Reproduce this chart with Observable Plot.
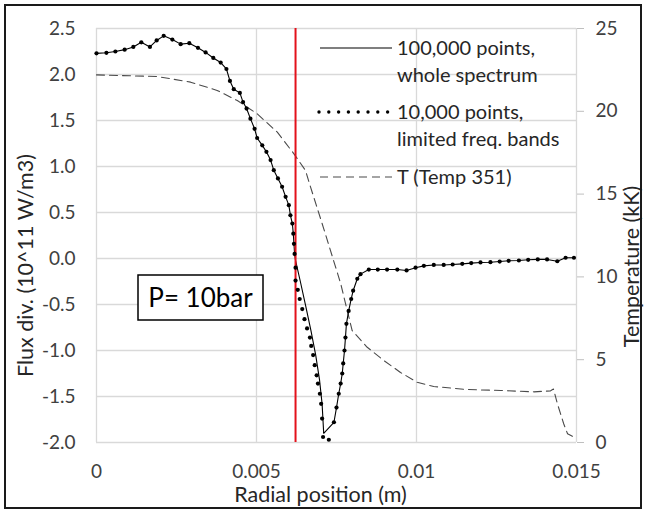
<!DOCTYPE html>
<html><head><meta charset="utf-8">
<script src="https://cdn.jsdelivr.net/npm/d3@7"></script>
<script src="https://cdn.jsdelivr.net/npm/@observablehq/plot@0.6"></script>
<style>
html,body{margin:0;padding:0;background:#fff;}
#chart{position:relative;width:646px;height:511px;}
svg{overflow:visible;}
</style></head><body><div id="chart"></div>
<script>
// ---- data ----
const xTicks = [0, 0.005, 0.01, 0.015];
const yTicks = [-2, -1.5, -1, -0.5, 0, 0.5, 1, 1.5, 2, 2.5];
const tempTicks = [0, 5, 10, 15, 20, 25];
const redX = 0.00622;

// shared part of the flux divergence (both computations)
const headX = [0, 0.00031, 0.00059, 0.00088, 0.00115, 0.0014, 0.00167, 0.00188, 0.0021, 0.00237, 0.00263, 0.0029, 0.00317, 0.00341, 0.00365, 0.00388, 0.00406, 0.00417, 0.00429, 0.00448, 0.00458, 0.00469, 0.00481, 0.00494, 0.00502, 0.00518, 0.00531, 0.00544, 0.00554, 0.00567, 0.0058, 0.00591, 0.00601, 0.00606, 0.00612, 0.00615, 0.00617, 0.00619];
const headY = [2.23, 2.236, 2.25, 2.27, 2.30, 2.35, 2.30, 2.37, 2.42, 2.38, 2.33, 2.34, 2.29, 2.24, 2.18, 2.13, 2.06, 1.93, 1.84, 1.80, 1.70, 1.63, 1.52, 1.41, 1.31, 1.23, 1.16, 1.07, 0.96, 0.87, 0.78, 0.67, 0.58, 0.47, 0.38, 0.27, 0.16, 0.05];
// 100,000 points, whole spectrum: trough
const solidTroughX = [0.00622, 0.00637, 0.00654, 0.0067, 0.00685, 0.00697, 0.00705, 0.0071];
const solidTroughY = [-0.02, -0.25, -0.52, -0.78, -1.05, -1.32, -1.58, -1.90];
// 10,000 points, limited freq. bands: trough
const dotTroughX = [0.00622, 0.00622, 0.00629, 0.00635, 0.00643, 0.0065, 0.00658, 0.00667, 0.00671, 0.00677, 0.00682, 0.00688, 0.00692, 0.00698, 0.00702, 0.00705, 0.00708, 0.00726];
const dotTroughY = [-0.10, -0.24, -0.34, -0.44, -0.55, -0.66, -0.76, -0.86, -0.95, -1.05, -1.16, -1.27, -1.36, -1.47, -1.58, -1.74, -1.94, -1.97];
// shared tail
const tailX = [0.00742, 0.0075, 0.00757, 0.00763, 0.00768, 0.00771, 0.00775, 0.00778, 0.00781, 0.00788, 0.00796, 0.00802, 0.00815, 0.00825, 0.00851, 0.00879, 0.00908, 0.0094, 0.00969, 0.00997, 0.01023, 0.01054, 0.01085, 0.01113, 0.01143, 0.01171, 0.012, 0.01231, 0.0126, 0.01288, 0.0132, 0.01349, 0.01379, 0.01408, 0.0144, 0.01466, 0.01492];
const tailY = [-1.78, -1.62, -1.47, -1.36, -1.25, -1.14, -1.00, -0.86, -0.71, -0.57, -0.44, -0.35, -0.22, -0.17, -0.12, -0.12, -0.12, -0.12, -0.13, -0.10, -0.08, -0.07, -0.07, -0.065, -0.058, -0.05, -0.043, -0.04, -0.033, -0.025, -0.022, -0.014, -0.01, -0.01, -0.03, 0.008, 0.008];
// T (Temp 351), kK
const tempX = [0, 0.0019, 0.00294, 0.00377, 0.0044, 0.00502, 0.00565, 0.00617, 0.00653, 0.00669, 0.0071, 0.00763, 0.00781, 0.00799, 0.00846, 0.00898, 0.0095, 0.01002, 0.01054, 0.01158, 0.01263, 0.01367, 0.01419, 0.01428, 0.0144, 0.0146, 0.01472, 0.01492, 0.015];
const tempY = [22.2, 22.1, 21.76, 21.26, 20.65, 19.85, 18.74, 17.43, 16.43, 15.42, 12.92, 9.6, 8.17, 6.76, 5.75, 4.95, 4.23, 3.64, 3.38, 3.2, 3.14, 3.06, 3.12, 3.23, 2.36, 1.13, 0.53, 0.32, 0.3];

// ---- build tables ----
const zip = (xs, ys) => xs.map((x, i) => ({x, y: ys[i]}));
const solid = [...zip(headX, headY), ...zip(solidTroughX, solidTroughY), ...zip(tailX, tailY)];
const dots = [...zip(headX, headY), ...zip(dotTroughX, dotTroughY), ...zip(tailX, tailY)];
const temp = tempX.map((x, i) => ({x, t: tempY[i]}));
// right axis (0..25 kK) mapped onto the left axis (-2..2.5)
const tToY = t => t * 4.5 / 25 - 2;
const yToT = y => Math.round((y + 2) * 25 / 4.5);

const FONT = "Lato, 'Open Sans', sans-serif";
const TXT = "#404040";

const plot = Plot.plot({
  width: 646, height: 511,
  marginLeft: 96, marginRight: 70, marginTop: 28, marginBottom: 69,
  style: {fontFamily: FONT, fontSize: "19px", color: TXT, background: "transparent", overflow: "visible"},
  x: {domain: [0, 0.015]},
  y: {domain: [-2, 2.5]},
  marks: [
    Plot.gridY(yTicks, {stroke: "#d9d9d9", strokeOpacity: 1, strokeWidth: 1.3}),
    Plot.gridX(xTicks, {stroke: "#d9d9d9", strokeOpacity: 1, strokeWidth: 1.3}),
    Plot.axisY(yTicks, {anchor: "left", tickSize: 0, tickPadding: 21, tickFormat: d => d.toFixed(1), label: null, fill: TXT, fontSize: 19}),
    Plot.axisY(tempTicks.map(tToY), {anchor: "right", tickSize: 7, stroke: "#bfbfbf", strokeOpacity: 1, tickPadding: 12, tickFormat: d => String(yToT(d)), label: null, fill: TXT, fontSize: 19}),
    Plot.axisX(xTicks, {anchor: "bottom", tickSize: 0, tickPadding: 22, tickFormat: d => String(d), label: null, fill: TXT, fontSize: 19}),
    Plot.line(temp, {x: "x", y: d => tToY(d.t), stroke: "#4a4a4a", strokeWidth: 1.1, strokeDasharray: "8,5"}),
    Plot.line(solid, {x: "x", y: "y", stroke: "#000", strokeWidth: 1.1}),
    Plot.ruleX([redX], {stroke: "#e3111b", strokeWidth: 2}),
    Plot.dot(dots, {x: "x", y: "y", r: 2.1, fill: "#000", stroke: null}),
    Plot.text(["Radial position (m)"], {text: d => d, frameAnchor: "bottom", textAnchor: "middle", lineAnchor: "middle", dx: -16, dy: 53, fontSize: 21.5, fill: "#262626"}),
    Plot.text(["Flux div. (10^11 W/m3)"], {text: d => d, frameAnchor: "left", textAnchor: "middle", lineAnchor: "middle", rotate: -90, dx: -70, dy: 30, fontSize: 21.5, fill: "#262626"}),
    Plot.text(["Temperature (kK)"], {text: d => d, frameAnchor: "right", textAnchor: "middle", lineAnchor: "middle", rotate: -90, dx: 56, dy: 31, fontSize: 21.5, fill: "#262626"})
  ]
});
document.getElementById("chart").appendChild(plot);

// ---- annotations: legend, pressure box, outer border ----
const svg = d3.select(plot);
const g = svg.append("g").attr("font-family", FONT).attr("fill", "#262626").attr("text-anchor", "start");
const legend = [
  {y: 48, kind: "solid", lines: ["100,000 points,", "whole spectrum"]},
  {y: 112, kind: "dots", lines: ["10,000 points,", "limited freq. bands"]},
  {y: 177, kind: "dash", lines: ["T (Temp 351)"]}
];
legend.forEach(e => {
  if (e.kind === "solid") g.append("line").attr("x1", 320).attr("x2", 392).attr("y1", e.y).attr("y2", e.y).attr("stroke", "#000").attr("stroke-width", 1.1);
  if (e.kind === "dash") g.append("line").attr("x1", 320).attr("x2", 392).attr("y1", e.y).attr("y2", e.y).attr("stroke", "#4a4a4a").attr("stroke-width", 1.1).attr("stroke-dasharray", "8,5");
  if (e.kind === "dots") d3.range(8).forEach(k => g.append("circle").attr("cx", 319 + k * 9.8).attr("cy", e.y).attr("r", 1.7).attr("fill", "#000"));
  e.lines.forEach((t, k) => g.append("text").attr("x", 397).attr("y", e.y + k * 26.5).attr("dy", "0.35em").attr("text-anchor", "start").attr("font-size", 20).text(t));
});
g.append("rect").attr("x", 138).attr("y", 275).attr("width", 125).attr("height", 45).attr("fill", "#fff").attr("stroke", "#000").attr("stroke-width", 1.5);
g.append("text").attr("x", 200.5).attr("y", 297.5).attr("dy", "0.35em").attr("text-anchor", "middle").attr("font-size", 26).attr("fill", "#000").text("P= 10bar");
svg.append("rect").attr("x", 5).attr("y", 5).attr("width", 636).attr("height", 503).attr("fill", "none").attr("stroke", "#1a1a1a").attr("stroke-width", 2);
</script>
</body></html>
